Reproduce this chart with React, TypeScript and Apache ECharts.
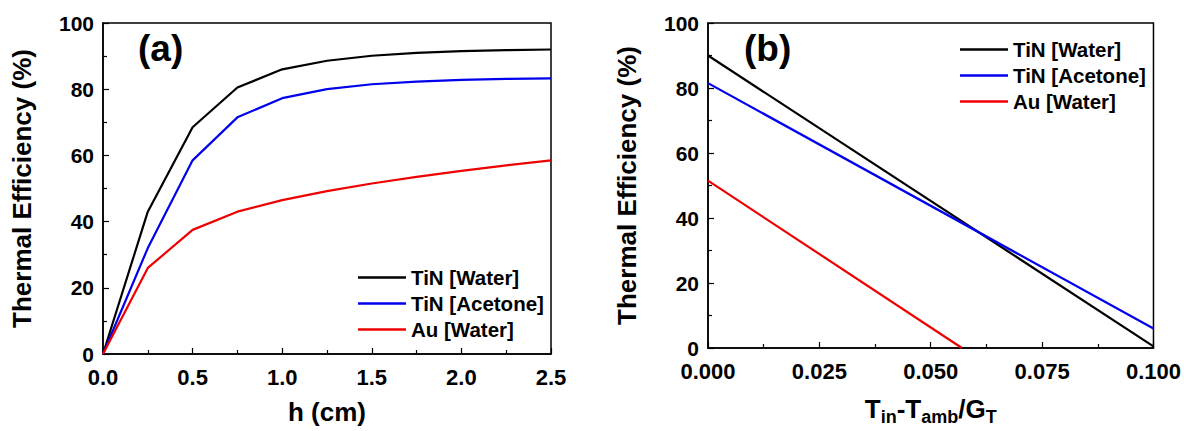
import React, { useEffect, useRef } from "react";
import * as echarts from "echarts";

const seriesNames = ["TiN [Water]", "TiN [Acetone]", "Au [Water]"];
const seriesColors = ["#000000", "#0000ee", "#ee0000"];

// Panel (a): thermal efficiency vs h (cm)
const hValues = [0, 0.25, 0.5, 0.75, 1.0, 1.25, 1.5, 1.75, 2.0, 2.25, 2.5];
const tinWaterA = [0, 43, 68.5, 80.5, 86, 88.6, 90.1, 91, 91.5, 91.8, 92];
const tinAcetoneA = [0, 32, 58.5, 71.5, 77.3, 80, 81.5, 82.3, 82.8, 83.1, 83.3];
const auWaterA = [0, 26, 37.5, 43, 46.5, 49.2, 51.5, 53.5, 55.3, 57, 58.5];

// Panel (b): thermal efficiency vs (Tin - Tamb)/GT
const tinWaterB: [number, number][] = [[0, 90], [0.1, 0.5]];
const tinAcetoneB: [number, number][] = [[0, 81.5], [0.1, 6]];
const auWaterB: [number, number][] = [[0, 51.5], [0.057, 0]];

const FONT = "'Liberation Sans', Arial, Helvetica, sans-serif";

export default function App() {
  const ref = useRef<HTMLDivElement>(null);
  useEffect(() => {
    if (!ref.current) return;
    const chart = echarts.init(ref.current, null, { renderer: "svg" });
    const xLabelStyle = { color: "#000", fontFamily: FONT, fontWeight: "bold" as const, fontSize: 22, lineHeight: 20 };
    const yLabelStyle = { color: "#000", fontFamily: FONT, fontWeight: "bold" as const, fontSize: 21, lineHeight: 18 };
    const nameStyle = { color: "#000", fontFamily: FONT, fontWeight: "bold" as const, fontSize: 26 };
    const axisLine = { show: true, lineStyle: { color: "#000", width: 1.5 } };
    const axisTick = { show: true, inside: true, length: 6, lineStyle: { color: "#000", width: 1.2 } };
    const minorTick = { show: true, splitNumber: 2, length: 4, lineStyle: { color: "#000", width: 1.2 } };
    const mkLine = (name: string, i: number, data: any, axis: number) => ({
      type: "line",
      name,
      data,
      xAxisIndex: axis,
      yAxisIndex: axis,
      symbol: "none",
      lineStyle: { color: seriesColors[i], width: 2.2 },
      itemStyle: { color: seriesColors[i] },
    });
    const legendBase = {
      orient: "vertical",
      icon: "rect",
      itemWidth: 48,
      itemHeight: 2.5,
      itemGap: 5,
      data: seriesNames,
      textStyle: { color: "#000", fontFamily: FONT, fontWeight: "bold", fontSize: 20.5, lineHeight: 20 },
      selectedMode: false,
    };
    chart.setOption({
      animation: false,
      backgroundColor: "#ffffff",
      grid: [
        { left: 103, top: 23, width: 448, height: 331, show: true, borderColor: "#000", borderWidth: 1.5 },
        { left: 708, top: 23, width: 446, height: 331, show: true, borderColor: "#000", borderWidth: 1.5 },
      ],
      xAxis: [
        {
          type: "value",
          gridIndex: 0,
          min: 0,
          max: 2.5,
          interval: 0.5,
          name: "h (cm)",
          nameLocation: "middle",
          nameGap: 45,
          nameTextStyle: nameStyle,
          axisLine,
          axisTick,
          minorTick,
          splitLine: { show: false },
          axisLabel: { ...xLabelStyle, margin: 13, formatter: (v: number) => v.toFixed(1) },
        },
        {
          type: "value",
          gridIndex: 1,
          min: 0,
          max: 0.1,
          interval: 0.025,
          name: "T{sub|in}-T{sub|amb}/G{sub|T}",
          nameLocation: "middle",
          nameGap: 44,
          nameTextStyle: {
            ...nameStyle,
            rich: {
              sub: { fontFamily: FONT, fontWeight: "bold", fontSize: 18, color: "#000", padding: [16, 0, 0, 0] },
            },
          },
          axisLine,
          axisTick,
          minorTick,
          splitLine: { show: false },
          axisLabel: { ...xLabelStyle, margin: 13, formatter: (v: number) => v.toFixed(3) },
        },
      ],
      yAxis: [0, 1].map((g) => ({
        type: "value",
        gridIndex: g,
        min: 0,
        max: 100,
        interval: 20,
        name: "Thermal Efficiency (%)",
        nameLocation: "middle",
        nameGap: 68,
        nameTextStyle: nameStyle,
        axisLine,
        axisTick,
        minorTick,
        splitLine: { show: false },
        axisLabel: { ...yLabelStyle, margin: 9 },
      })),
      legend: [
        { ...legendBase, left: 353, top: 262 },
        { ...legendBase, left: 955, top: 34 },
      ],
      graphic: [
        {
          type: "text",
          left: 138,
          top: 30,
          style: { text: "(a)", fontFamily: FONT, fontWeight: "bold", fontSize: 37, fill: "#000" },
        },
        {
          type: "text",
          left: 744,
          top: 30,
          style: { text: "(b)", fontFamily: FONT, fontWeight: "bold", fontSize: 37, fill: "#000" },
        },
      ],
      series: [
        mkLine(seriesNames[0], 0, hValues.map((h, i) => [h, tinWaterA[i]]), 0),
        mkLine(seriesNames[1], 1, hValues.map((h, i) => [h, tinAcetoneA[i]]), 0),
        mkLine(seriesNames[2], 2, hValues.map((h, i) => [h, auWaterA[i]]), 0),
        mkLine(seriesNames[0], 0, tinWaterB, 1),
        mkLine(seriesNames[1], 1, tinAcetoneB, 1),
        mkLine(seriesNames[2], 2, auWaterB, 1),
      ],
    });
    return () => chart.dispose();
  }, []);
  return (
    <div
      ref={ref}
      style={{ position: "absolute", left: 0, top: 0, width: 1184, height: 431, background: "#fff" }}
    />
  );
}
